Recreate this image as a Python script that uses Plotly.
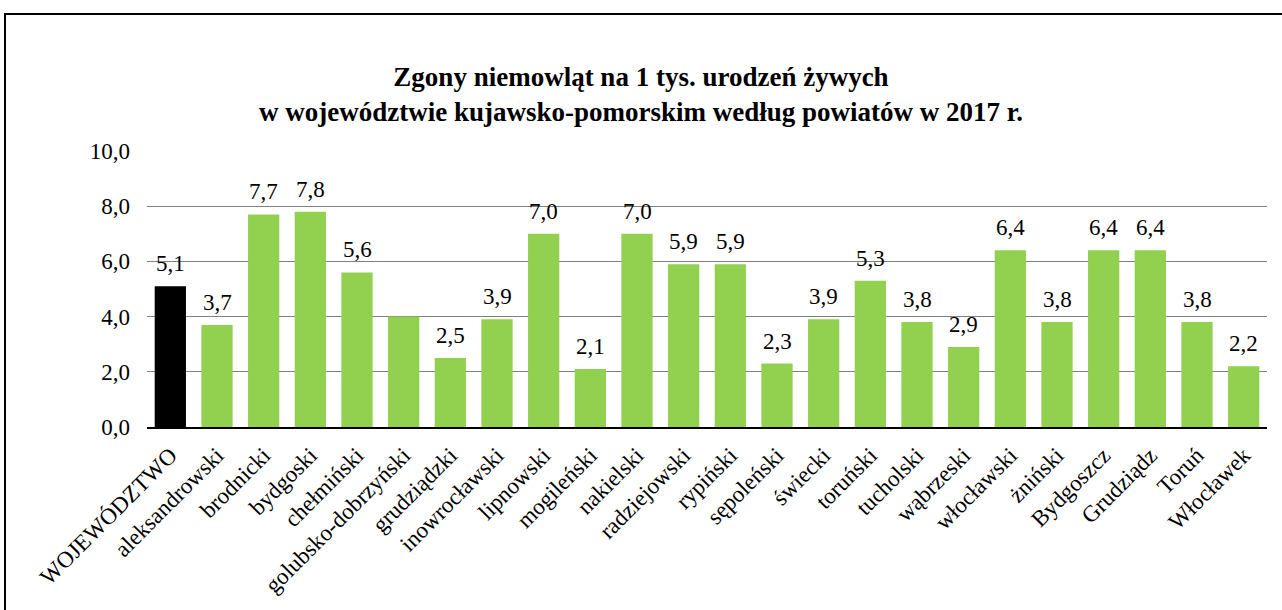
import plotly.graph_objects as go

categories = ["WOJEWÓDZTWO", "aleksandrowski", "brodnicki", "bydgoski", "chełmiński",
              "golubsko-dobrzyński", "grudziądzki", "inowrocławski", "lipnowski", "mogileński",
              "nakielski", "radziejowski", "rypiński", "sępoleński", "świecki", "toruński",
              "tucholski", "wąbrzeski", "włocławski", "żniński", "Bydgoszcz", "Grudziądz",
              "Toruń", "Włocławek"]
values = [5.1, 3.7, 7.7, 7.8, 5.6, 4.0, 2.5, 3.9, 7.0, 2.1, 7.0, 5.9, 5.9, 2.3, 3.9, 5.3,
          3.8, 2.9, 6.4, 3.8, 6.4, 6.4, 3.8, 2.2]
hidden_label = ["golubsko-dobrzyński"]
y_ticks = [0, 2, 4, 6, 8, 10]

labels = ["" if c in hidden_label else f"{v:.1f}".replace(".", ",") for c, v in zip(categories, values)]
colors = ["#000000"] + ["#92D050"] * (len(categories) - 1)

FONT = "Liberation Serif, Times New Roman, serif"

fig = go.Figure(go.Bar(
    x=categories, y=values, marker=dict(color=colors, line=dict(width=0)),
    hoverinfo="skip",
))

for c, v, t in zip(categories, values, labels):
    if t:
        fig.add_annotation(x=c, y=v, text=t, showarrow=False, yanchor="bottom",
                           yshift=8, font=dict(family=FONT, size=23, color="#000000"))

L, R, T, B = 147, 15, 151, 183
W, H = 1282, 610
pw, ph = W - L - R, H - T - B

def px_x(x):
    return (x - L) / pw

def px_y(y):
    return (H - B - y) / ph

fig.update_layout(
    width=W, height=H,
    margin=dict(l=L, r=R, t=T, b=B, autoexpand=False),
    paper_bgcolor="white", plot_bgcolor="white",
    separators=", ",
    bargap=0.33,
    showlegend=False,
    font=dict(family=FONT, size=23, color="#000000"),
    title=dict(
        text="<b>Zgony niemowląt na 1 tys. urodzeń żywych<br>w województwie kujawsko-pomorskim według powiatów w 2017 r.</b>",
        x=0.5, xanchor="center", xref="container",
        y=(H - 86) / H, yanchor="middle", yref="container",
        font=dict(family=FONT, size=27, color="#000000"),
    ),
    xaxis=dict(
        tickangle=-45, tickfont=dict(family=FONT, size=23),
        showgrid=False, showline=True, linecolor="#000000", linewidth=1.5,
        ticks="", ticklabelstandoff=4, fixedrange=True,
    ),
    yaxis=dict(
        range=[0, 10], tickvals=y_ticks, tickformat=".1f",
        tickfont=dict(family=FONT, size=23),
        showgrid=True, gridcolor="#808080", gridwidth=1,
        zeroline=False, showline=False, ticks="", ticklabelstandoff=16,
        fixedrange=True,
    ),
    shapes=[dict(
        type="rect", xref="paper", yref="paper",
        x0=px_x(5), x1=px_x(1295), y0=px_y(625), y1=px_y(14),
        line=dict(color="#000000", width=2), fillcolor="rgba(0,0,0,0)", layer="below",
    )],
)

fig.write_html("out.html", config={"displayModeBar": False},
               post_script="document.body.style.margin='0';document.body.style.overflow='hidden';")
